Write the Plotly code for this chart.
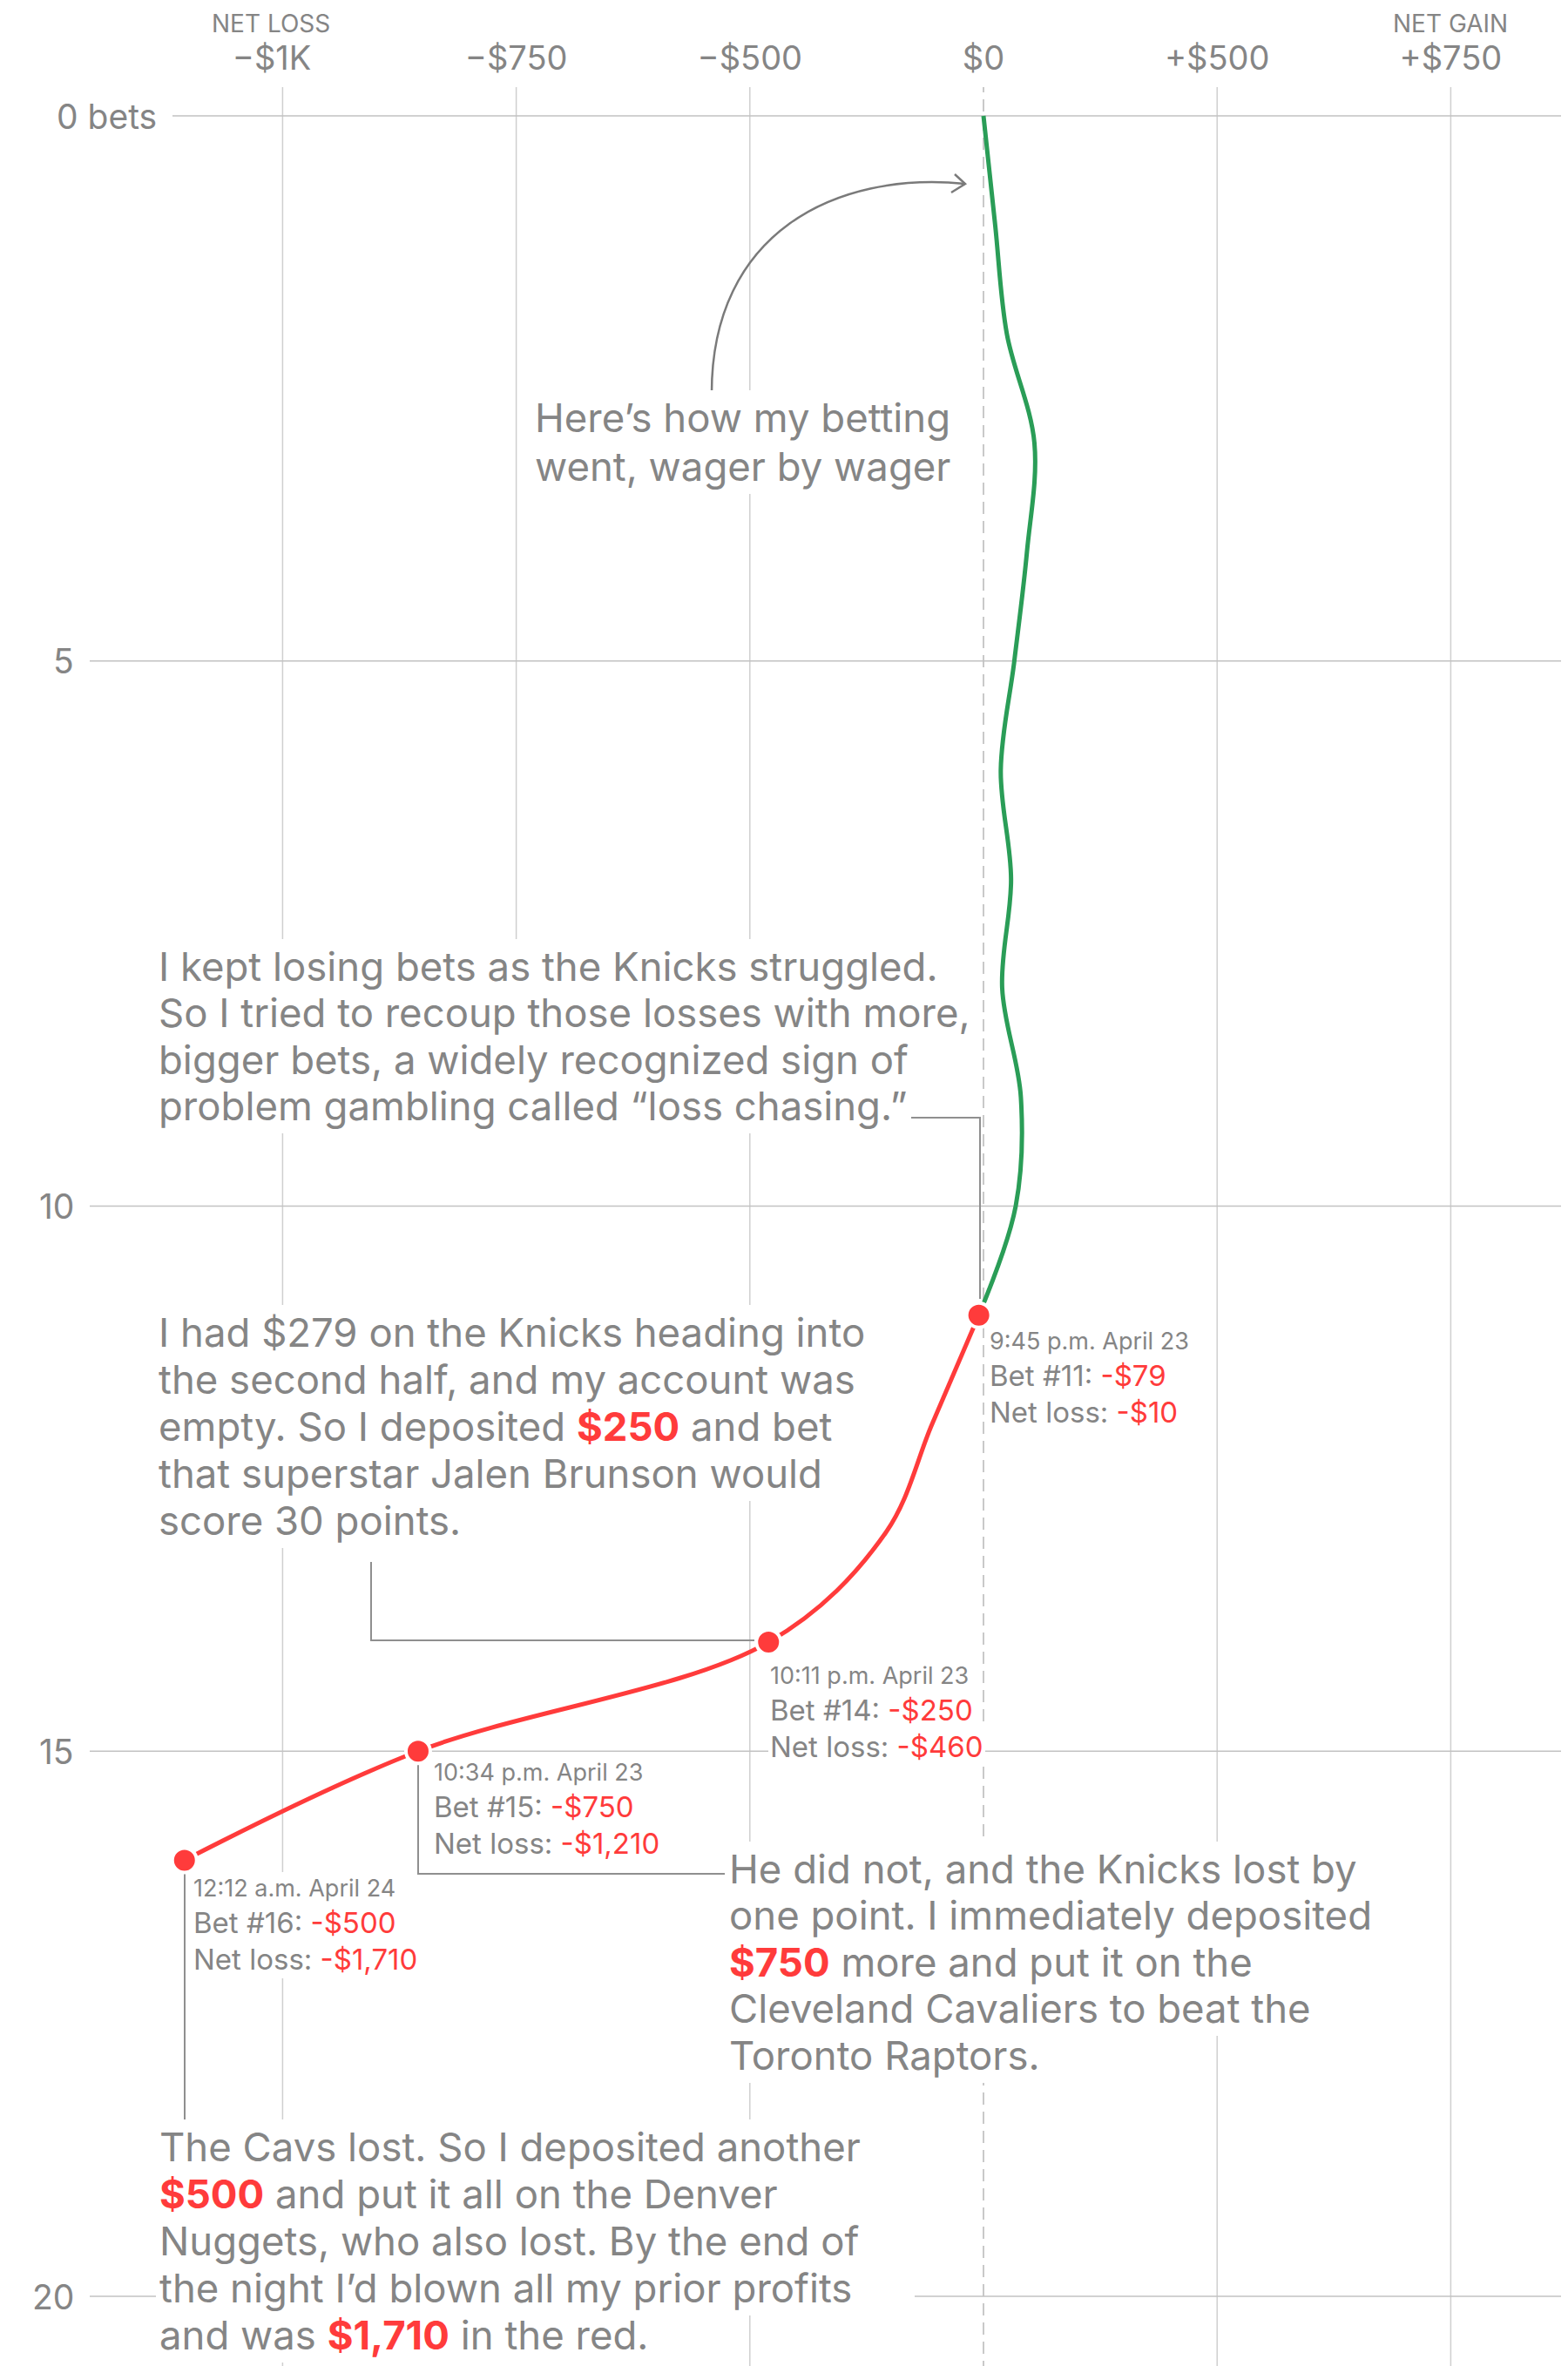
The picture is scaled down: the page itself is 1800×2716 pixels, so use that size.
import plotly.graph_objects as go

# ---------------- data ----------------
bets = list(range(0, 17))
net_dollars = [0, 25, 50, 109, 93, 66, 37, 59, 40, 80, 69, -10, -110, -210, -460, -1210, -1710]
last_green_bet = 11

highlight_bets = [11, 14, 15, 16]
highlight_times = ["9:45 p.m. April 23", "10:11 p.m. April 23", "10:34 p.m. April 23", "12:12 a.m. April 24"]
highlight_wagers = [-79, -250, -750, -500]

x_tick_vals = [-1500, -1000, -500, 0, 500, 1000]
x_tick_text = ["\u2212$1K\u2007", "\u2212$750", "\u2212$500", "$0", "+$500", "+$750"]
y_tick_vals = [0, 5, 10, 15, 20]

# ---------------- style ----------------
W, H = 1800, 2716
TOP = 92
FONT = "Inter, sans-serif"
GRAY = "#858585"
RED = "#ff3b3b"
GREEN = "#2a9d57"
GRID = "#cfcfcf"
HGRID = "#c2c2c2"
CONN = "#8f8f8f"
K_MID = 0.3633  # (ascent - descent)/2 for Inter

PX_PER_DOLLAR = (1658 - 317) / 2500.0
ZERO_PX = 1121
PX_PER_BET = (2628 - 125) / 20.0
BET0_PX = 125
x_range = [(0 - ZERO_PX) / PX_PER_DOLLAR, (W - ZERO_PX) / PX_PER_DOLLAR]
y_range = [(H - BET0_PX) / PX_PER_BET, (TOP - BET0_PX) / PX_PER_BET]


def xp(px):
    return px / W


def yp(py):
    return (H - py) / (H - TOP)


def red(s, bold=False):
    s = f"<b>{s}</b>" if bold else s
    return f"<span style='color:{RED}'>{s}</span>"


def money(v):
    return ("-" if v < 0 else "") + f"${abs(v):,}"


fig = go.Figure()

# ---------------- traces ----------------
fig.add_trace(go.Scatter(
    x=net_dollars[:last_green_bet + 1], y=bets[:last_green_bet + 1],
    mode="lines", line=dict(color=GREEN, width=5, shape="spline", smoothing=1),
    hoverinfo="skip", showlegend=False))
fig.add_trace(go.Scatter(
    x=net_dollars[last_green_bet:], y=bets[last_green_bet:],
    mode="lines", line=dict(color=RED, width=5, shape="spline", smoothing=1),
    hoverinfo="skip", showlegend=False))
fig.add_trace(go.Scatter(
    x=[net_dollars[b] for b in highlight_bets], y=highlight_bets,
    mode="markers", marker=dict(color=RED, size=28, line=dict(color="white", width=4)),
    hoverinfo="skip", showlegend=False))

shapes = []
# vertical gridlines
for v in x_tick_vals:
    if v == 0:
        shapes.append(dict(type="line", xref="x", yref="paper", x0=v, x1=v, y0=0, y1=1,
                           line=dict(color="#b8b8b8", width=1.5, dash="14px,8px"), layer="below"))
    elif v == -1000:
        shapes.append(dict(type="line", xref="x", yref="paper", x0=v, x1=v, y0=yp(1075), y1=1,
                           line=dict(color=GRID, width=1.5), layer="below"))
    else:
        shapes.append(dict(type="line", xref="x", yref="paper", x0=v, x1=v, y0=0, y1=1,
                           line=dict(color=GRID, width=1.5), layer="below"))
# horizontal gridlines
for b in y_tick_vals:
    if b == 0:
        segs = [(190, W)]
    elif b == 20:
        segs = [(95, 185), (1042, W)]
    else:
        segs = [(95, W)]
    for a, c in segs:
        shapes.append(dict(type="line", xref="paper", yref="y", x0=xp(a), x1=xp(c), y0=b, y1=b,
                           line=dict(color=HGRID, width=1.5), layer="below"))


def poly(points, color=CONN, width=2):
    d = "M " + " L ".join(f"{xp(a)},{yp(b)}" for a, b in points)
    shapes.append(dict(type="path", xref="paper", yref="paper", path=d,
                       line=dict(color=color, width=width), layer="below"))


# connector lines
poly([(1036, 1275), (1117, 1275), (1117, 1483)])
poly([(418, 1785), (418, 1875), (858, 1875)])
poly([(472, 2017), (472, 2143), (824, 2143)])
poly([(204, 2142), (204, 2430)])

# curved arrow
arrow = (f"M {xp(809)},{yp(443)} C {xp(809)},{yp(260)} {xp(950)},{yp(188)} {xp(1100)},{yp(203)}")
shapes.append(dict(type="path", xref="paper", yref="paper", path=arrow,
                   line=dict(color="#7a7a7a", width=2.5), layer="above"))
poly([(1088, 192), (1100, 203), (1084, 213)], color="#7a7a7a", width=2.5)

annotations = []


def line_ann(txt, x_left, baseline, size, color=GRAY, pad=4, bg="white"):
    center = baseline - K_MID * size
    return dict(
        text=txt, x=xp(x_left - 2 * pad - 2), y=yp(center), xref="paper", yref="paper",
        xanchor="left", yanchor="middle", showarrow=False, align="left",
        font=dict(family=FONT, size=size, color=color),
        bgcolor=bg, borderpad=pad, borderwidth=0)


# y labels
for b in y_tick_vals:
    cy = BET0_PX + b * PX_PER_BET
    if b == 0:
        annotations.append(dict(text="0 bets", x=xp(55), y=yp(cy), xref="paper", yref="paper",
                                xanchor="left", yanchor="middle", showarrow=False,
                                font=dict(family=FONT, size=39, color=GRAY)))
    else:
        annotations.append(dict(text=str(b), x=xp(79), y=yp(cy), xref="paper", yref="paper",
                                xanchor="right", yanchor="middle", showarrow=False,
                                font=dict(family=FONT, size=39, color=GRAY)))

# NET LOSS / NET GAIN
for lbl, cx in (("NET LOSS", 303), ("NET GAIN", 1657)):
    annotations.append(dict(text=lbl, x=xp(cx), y=yp(29 - K_MID * 28), xref="paper", yref="paper",
                            xanchor="center", yanchor="middle", showarrow=False,
                            font=dict(family=FONT, size=28, color=GRAY)))

BODY = 45.5


def block(lines, x_left, first_baseline, spacing, size=BODY):
    anns = [line_ann(ln, x_left, first_baseline + i * spacing, size) for i, ln in enumerate(lines)]
    # lower lines first so that upper lines' descenders stay on top
    annotations.extend(reversed(anns))


block(["Here\u2019s how my betting", "went, wager by wager"], 612, 488, 56)
block(["I kept losing bets as the Knicks struggled.",
       "So I tried to recoup those losses with more,",
       "bigger bets, a widely recognized sign of",
       "problem gambling called \u201closs chasing.\u201d"], 180, 1118, 53.5)
block(["I had $279 on the Knicks heading into",
       "the second half, and my account was",
       f"empty. So I deposited {red('$250', True)} and bet",
       "that superstar Jalen Brunson would",
       "score 30 points."], 180, 1538, 54)
block(["He did not, and the Knicks lost by",
       "one point. I immediately deposited",
       f"{red('$750', True)} more and put it on the",
       "Cleveland Cavaliers to beat the",
       "Toronto Raptors."], 835, 2154, 53.5)
block(["The Cavs lost. So I deposited another",
       f"{red('$500', True)} and put it all on the Denver",
       "Nuggets, who also lost. By the end of",
       "the night I\u2019d blown all my prior profits",
       f"and was {red(money(-net_dollars[-1]).replace('-', ''), True)} in the red."], 181, 2473, 54)

# bet info blocks
info_pos = {11: (1132, 1541), 14: (880, 1925), 15: (494, 2036), 16: (218, 2169)}
for b, t, w in zip(highlight_bets, highlight_times, highlight_wagers):
    x0, base = info_pos[b]
    anns = [line_ann(t, x0, base, 27, pad=2),
            line_ann(f"Bet #{b}: {red(money(w))}", x0, base + 42, 33, pad=2),
            line_ann(f"Net loss: {red(money(net_dollars[b]))}", x0, base + 84, 33, pad=2)]
    annotations.extend(reversed(anns))

fig.update_layout(
    width=W, height=H,
    margin=dict(l=0, r=0, t=TOP, b=0),
    paper_bgcolor="white", plot_bgcolor="white",
    showlegend=False,
    shapes=shapes, annotations=annotations,
    xaxis=dict(range=x_range, side="top", tickvals=x_tick_vals, ticktext=x_tick_text,
               showgrid=False, zeroline=False, showline=False, ticks="",
               tickfont=dict(family=FONT, size=38, color=GRAY), ticklabelstandoff=11,
               fixedrange=True),
    yaxis=dict(range=y_range, showticklabels=False, showgrid=False, zeroline=False,
               showline=False, ticks="", fixedrange=True),
)

fig.write_html("out.html")
